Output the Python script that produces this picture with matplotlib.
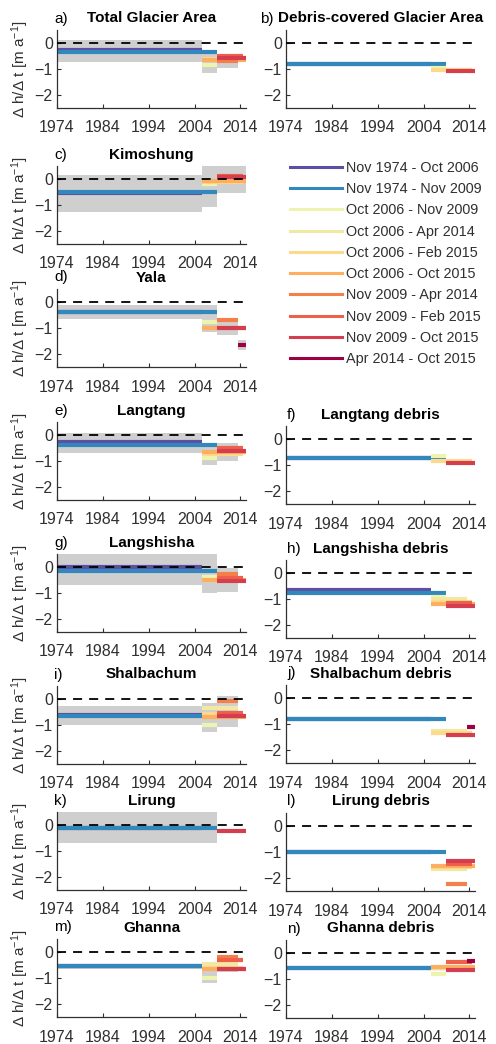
import numpy as np
import matplotlib.pyplot as plt
from matplotlib.lines import Line2D

plt.rcParams['font.family'] = ['Liberation Sans', 'DejaVu Sans']
plt.rcParams['mathtext.fontset'] = 'custom'
plt.rcParams['mathtext.rm'] = 'Liberation Sans'
plt.rcParams['mathtext.it'] = 'Liberation Sans:italic'

nan = np.nan

# Periods (legend order), colours and where each period sits on the time axis
periods = ['Nov 1974 - Oct 2006', 'Nov 1974 - Nov 2009', 'Oct 2006 - Nov 2009',
           'Oct 2006 - Apr 2014', 'Oct 2006 - Feb 2015', 'Oct 2006 - Oct 2015',
           'Nov 2009 - Apr 2014', 'Nov 2009 - Feb 2015', 'Nov 2009 - Oct 2015',
           'Apr 2014 - Oct 2015']
colors = ['#5e4fa2', '#3288bd', '#eef4b0', '#f1e8a4', '#fed98a', '#fdae61',
          '#f67e4b', '#ee6049', '#d53e4f', '#9e0142']
t_start = [1974.0, 1974.0, 2005.6, 2005.6, 2005.6, 2005.6, 2008.8, 2008.8, 2008.8, 2013.5]
t_end = [2005.6, 2008.8, 2008.8, 2013.5, 2014.6, 2015.1, 2013.5, 2014.6, 2015.1, 2015.1]

# Elevation change rate per period [m a-1] (nan = not shown)
a_dhdt = [-0.27, -0.35, -0.85, nan, -0.62, -0.66, -0.70, -0.50, -0.58, nan]
b_dhdt = [-0.80, -0.80, -0.95, nan, -1.02, nan, nan, nan, -1.07, nan]
c_dhdt = [-0.55, -0.50, -0.20, nan, -0.12, -0.08, nan, 0.13, 0.07, nan]
d_dhdt = [-0.39, -0.39, -0.77, nan, nan, -1.00, -0.71, nan, -1.00, -1.64]
e_dhdt = [-0.27, -0.37, -0.87, nan, -0.72, -0.66, nan, -0.50, -0.62, nan]
f_dhdt = [-0.72, -0.72, -0.66, nan, -0.85, nan, nan, nan, -0.92, nan]
g_dhdt = [0.00, -0.16, -0.37, nan, -0.50, -0.50, -0.25, -0.44, -0.52, nan]
h_dhdt = [-0.65, -0.78, -0.92, -1.00, -1.13, -1.20, nan, -1.15, -1.27, nan]
i_dhdt = [-0.63, -0.65, -1.00, -0.35, -0.57, -0.70, -0.09, -0.55, -0.65, nan]
j_dhdt = [-0.80, -0.80, nan, -1.25, -1.33, nan, nan, nan, -1.43, -1.13]
k_dhdt = [-0.13, -0.13, nan, nan, nan, nan, nan, nan, -0.23, nan]
l_dhdt = [-1.00, -1.01, nan, -1.67, -1.58, -1.55, -2.24, -1.47, -1.34, nan]
m_dhdt = [-0.55, -0.55, -1.00, -0.45, -0.62, -0.66, -0.19, -0.29, -0.64, nan]
n_dhdt = [-0.58, -0.58, -0.80, nan, -0.57, -0.52, nan, -0.35, -0.64, -0.29]

# Grey uncertainty boxes: (period, low, high)
a_unc = [(0, -0.72, 0.10), (2, -1.15, -0.25), (6, -0.97, -0.44)]
c_unc = [(0, -1.28, 0.17), (2, -1.08, 0.50), (8, -0.55, 0.50)]
d_unc = [(1, -0.65, -0.13), (2, -1.16, -0.65), (6, -1.25, -0.62), (9, -1.85, -1.46)]
e_unc = [(0, -0.69, 0.07), (2, -1.15, -0.30), (6, -1.00, -0.30)]
g_unc = [(0, -0.68, 0.50), (2, -1.00, 0.50), (6, -0.95, -0.05)]
i_unc = [(0, -1.00, -0.26), (2, -1.26, -0.15), (6, -1.06, 0.10)]
k_unc = [(1, -0.71, 0.49)]
m_unc = [(1, -0.64, -0.45), (2, -1.20, -0.38), (6, -0.76, -0.13)]

years = [1974, 1984, 1994, 2004, 2014]

# letter, title, data, boxes, column, pixel row of the zero line
panels = [
    ('a)', 'Total Glacier Area', a_dhdt, a_unc, 0, 43),
    ('b)', 'Debris-covered Glacier Area', b_dhdt, [], 1, 43),
    ('c)', 'Kimoshung', c_dhdt, c_unc, 0, 179),
    ('d)', 'Yala', d_dhdt, d_unc, 0, 302),
    ('e)', 'Langtang', e_dhdt, e_unc, 0, 435),
    ('f)', 'Langtang debris', f_dhdt, [], 1, 439),
    ('g)', 'Langshisha', g_dhdt, g_unc, 0, 567),
    ('h)', 'Langshisha debris', h_dhdt, [], 1, 573),
    ('i)', 'Shalbachum', i_dhdt, i_unc, 0, 699),
    ('j)', 'Shalbachum debris', j_dhdt, [], 1, 698),
    ('k)', 'Lirung', k_dhdt, k_unc, 0, 825),
    ('l)', 'Lirung debris', l_dhdt, [], 1, 826),
    ('m)', 'Ghanna', m_dhdt, m_unc, 0, 952),
    ('n)', 'Ghanna debris', n_dhdt, [], 1, 953),
]

W, H = 496, 1044
fig = plt.figure(figsize=(W / 100, H / 100), dpi=100)
axc = '#303030'
pxu = 26  # pixels per m a-1
axw, axh = 189, 3 * pxu

for letter, title, dhdt, unc, col, zy in panels:
    x0 = 57 if col == 0 else 286
    top = zy - 0.5 * pxu
    ax = fig.add_axes([x0 / W, 1 - (top + axh) / H, axw / W, axh / H])
    for p, lo, hi in unc:
        ax.fill_between([t_start[p], t_end[p]], lo, hi, color='#cfcfcf', lw=0, zorder=1)
    for p in range(len(periods)):
        if np.isnan(dhdt[p]):
            continue
        ax.plot([t_start[p], t_end[p]], [dhdt[p], dhdt[p]], color=colors[p], lw=3,
                solid_capstyle='butt', zorder=2)
    ax.axhline(0, color='k', lw=1.3, dashes=(5, 3.9), zorder=3)
    ax.set_xlim(1974, 2015.2)
    ax.set_ylim(-2.5, 0.5)
    ax.set_xticks(years)
    ax.set_yticks([0, -1, -2])
    ax.tick_params(direction='in', length=3, width=0.8, colors=axc, labelsize=11.5)
    ax.tick_params(axis='x', pad=9)
    ax.tick_params(axis='y', pad=3)
    for s in ['top', 'right']:
        ax.spines[s].set_visible(False)
    for s in ['left', 'bottom']:
        ax.spines[s].set_color(axc)
        ax.spines[s].set_linewidth(0.9)
    ty = 1 + 11.5 / axh
    ax.text(0.5, ty, title, transform=ax.transAxes, ha='center', va='center',
            fontsize=11, fontweight='bold', color='k')
    lx = -26 / axw if letter == 'b)' else (-3 / axw if col == 0 else 1 / axw)
    ax.text(lx, ty, letter, transform=ax.transAxes, ha='left', va='center',
            fontsize=11, color='k')
    if col == 0:
        ax.set_ylabel(r'$\Delta$ h/$\Delta$ t [m a$^{-1}$]', fontsize=11, color=axc)
        ax.yaxis.set_label_coords(-0.135, 0.5)

handles = [Line2D([0], [0], color=c, lw=2.2) for c in colors]
fig.legend(handles, periods, loc='upper left', bbox_to_anchor=(290 / W, 1 - 161 / H),
           frameon=False, fontsize=10.4, handlelength=3.6, handletextpad=0.3,
           labelspacing=0.5, borderpad=0, borderaxespad=0, labelcolor=axc)

plt.savefig('out.png', dpi=100)
